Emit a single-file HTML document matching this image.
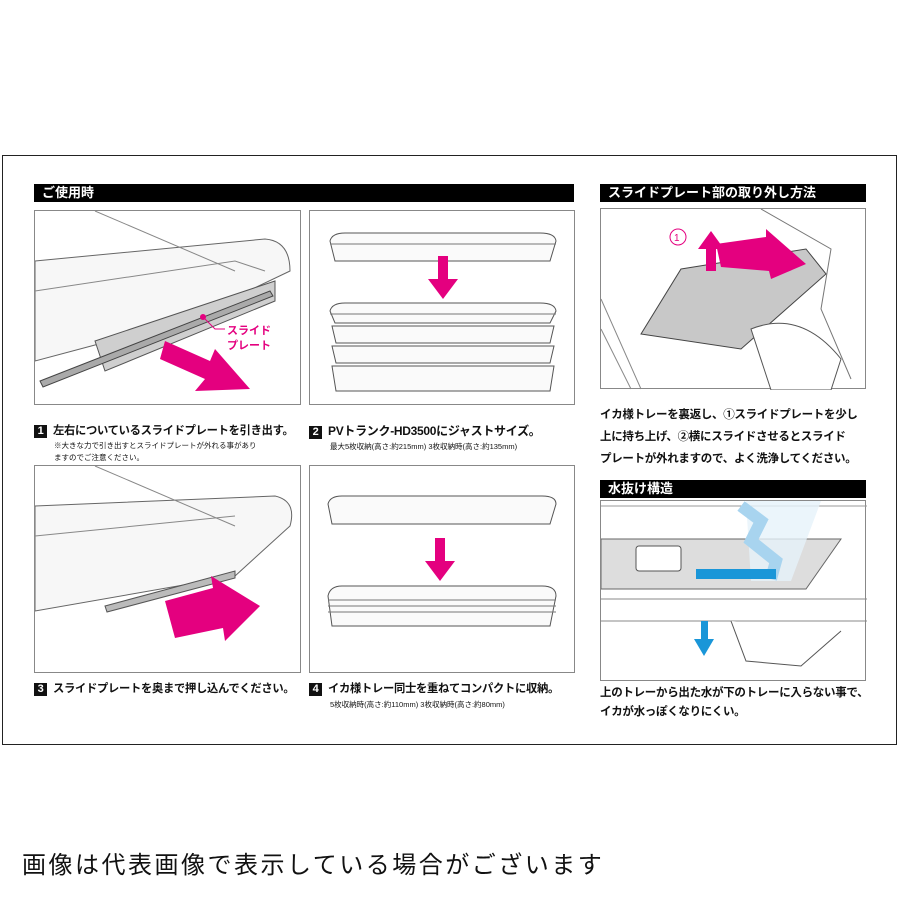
<!DOCTYPE html>
<html><head><meta charset="utf-8"><style>
body{margin:0;width:900px;height:900px;background:#fff;font-family:"Liberation Sans","Noto Sans CJK JP",sans-serif;position:relative;overflow:hidden;color:#111}
.a{position:absolute}
.hd{position:absolute;background:#000;color:#fff;font-weight:bold;font-size:13px;line-height:18px;padding-left:8px;box-sizing:border-box}
.pn{position:absolute;border:1px solid #888;box-sizing:border-box;background:#fff}
.t{position:absolute;font-size:11.3px;font-weight:bold;white-space:nowrap;letter-spacing:-0.3px}
.s{position:absolute;font-size:7.5px;white-space:nowrap}
.n{display:inline-block;background:#111;color:#fff;width:13px;height:13px;line-height:13px;text-align:center;font-size:11px;margin-right:6px}
</style></head><body>
<div class="a" style="left:2px;top:155px;width:895px;height:590px;border:1.5px solid #222;box-sizing:border-box"></div>

<div class="hd" style="left:34px;top:184px;width:540px;height:18px">ご使用時</div>
<div class="hd" style="left:600px;top:184px;width:266px;height:18px">スライドプレート部の取り外し方法</div>

<div class="pn" style="left:34px;top:210px;width:267px;height:195px">
<svg width="267" height="195" viewBox="0 0 267 195">
<path d="M0 50 L230 28 Q255 30 255 60 L150 110 L0 150Z" fill="#f7f7f7" stroke="#666"/>
<path d="M0 80 L200 50 L230 60" fill="none" stroke="#888"/>
<path d="M60 130 L240 70 L240 90 L70 160Z" fill="#cfcfcf" stroke="#555"/>
<path d="M5 170 L235 80 L238 85 L8 176Z" fill="#aaa" stroke="#444"/>
<line x1="60" y1="0" x2="200" y2="60" stroke="#888"/>
<polygon points="130,130 175,150 180,138 215,178 160,180 170,168 125,148" fill="#e4007f"/>
<circle cx="168" cy="106" r="3" fill="#e4007f"/>
<path d="M168 106 L180 118 L190 118" stroke="#e4007f" fill="none"/>
<text x="192" y="123" font-size="11" fill="#e4007f" font-weight="bold">スライド</text>
<text x="192" y="138" font-size="11" fill="#e4007f" font-weight="bold">プレート</text>
</svg></div>
<div class="pn" style="left:309px;top:210px;width:266px;height:195px">
<svg width="266" height="195" viewBox="0 0 266 195">
<g fill="#fafafa" stroke="#555">
<path d="M20 30 Q22 22 35 22 L230 22 Q245 22 246 30 L240 50 L25 50Z"/>
<path d="M20 100 Q22 92 35 92 L230 92 Q245 92 246 100 L240 112 L25 112Z"/>
<path d="M22 115 L244 115 L240 132 L26 132Z"/>
<path d="M22 135 L244 135 L240 152 L26 152Z"/>
<path d="M22 155 L244 155 L240 180 L26 180Z"/>
</g>
<line x1="20" y1="33" x2="246" y2="33" stroke="#777"/>
<line x1="20" y1="103" x2="246" y2="103" stroke="#777"/>
<polygon points="128,45 138,45 138,68 148,68 133,88 118,68 128,68" fill="#e4007f"/>
</svg></div>

<div class="t" style="left:34px;top:422px"><span class="n">1</span>左右についているスライドプレートを引き出す。</div>
<div class="s" style="left:54px;top:440px">※大きな力で引き出すとスライドプレートが外れる事があり</div>
<div class="s" style="left:54px;top:452px">ますのでご注意ください。</div>
<div class="t" style="left:309px;top:422px;font-size:12px"><span class="n">2</span>PVトランク-HD3500にジャストサイズ。</div>
<div class="s" style="left:330px;top:441px">最大5枚収納(高さ:約215mm) 3枚収納時(高さ:約135mm)</div>

<div class="pn" style="left:34px;top:465px;width:267px;height:208px">
<svg width="267" height="208" viewBox="0 0 267 208">
<path d="M0 40 L240 30 Q262 35 255 60 L200 110 L0 145Z" fill="#f7f7f7" stroke="#666"/>
<path d="M0 70 L200 50" stroke="#888" fill="none"/>
<path d="M70 140 L200 105 L200 112 L72 146Z" fill="#bbb" stroke="#555"/>
<line x1="60" y1="0" x2="200" y2="60" stroke="#888"/>
<polygon points="130,135 178,122 176,110 225,140 190,175 188,162 140,172" fill="#e4007f"/>
</svg></div>
<div class="pn" style="left:309px;top:465px;width:266px;height:208px">
<svg width="266" height="208" viewBox="0 0 266 208">
<g fill="#fafafa" stroke="#555">
<path d="M18 38 Q20 30 32 30 L232 30 Q246 30 246 38 L240 58 L22 58Z"/>
<path d="M18 130 Q20 120 32 120 L232 120 Q246 120 246 130 L240 160 L22 160Z"/>
</g>
<line x1="18" y1="134" x2="246" y2="134" stroke="#777"/><line x1="18" y1="140" x2="246" y2="140" stroke="#777"/><line x1="18" y1="146" x2="246" y2="146" stroke="#777"/>
<polygon points="125,72 135,72 135,95 145,95 130,115 115,95 125,95" fill="#e4007f"/>
</svg></div>

<div class="t" style="left:34px;top:680px"><span class="n">3</span>スライドプレートを奥まで押し込んでください。</div>
<div class="t" style="left:309px;top:680px"><span class="n">4</span>イカ様トレー同士を重ねてコンパクトに収納。</div>
<div class="s" style="left:330px;top:699px">5枚収納時(高さ:約110mm) 3枚収納時(高さ:約80mm)</div>

<div class="pn" style="left:600px;top:208px;width:266px;height:181px">
<svg width="266" height="181" viewBox="0 0 266 181">
<path d="M0 90 L40 180 M0 120 L30 180" stroke="#888" fill="none"/>
<path d="M160 0 L230 40 L220 100 L250 170" stroke="#777" fill="none"/>
<path d="M80 60 L205 40 L225 65 L140 140 L40 125Z" fill="#c8c8c8" stroke="#444"/>
<path d="M150 120 Q200 100 240 150 L230 181 L170 181 Z" fill="#fff" stroke="#555"/>
<polygon points="105,62 115,62 115,40 123,40 110,22 97,40 105,40" fill="#e4007f"/>
<polygon points="115,35 165,28 165,20 205,55 170,70 168,62 120,58" fill="#e4007f"/>
<circle cx="77" cy="28" r="8" fill="none" stroke="#e4007f"/><text x="73" y="32" font-size="10" fill="#e4007f">1</text>
<circle cx="186" cy="55" r="7" fill="none" stroke="#e4007f"/><text x="182" y="59" font-size="10" fill="#e4007f">2</text>
</svg></div>
<div class="t" style="left:600px;top:404px;font-size:11.5px;line-height:22px">イカ様トレーを裏返し、①スライドプレートを少し<br>上に持ち上げ、②横にスライドさせるとスライド<br>プレートが外れますので、よく洗浄してください。</div>

<div class="hd" style="left:600px;top:480px;width:266px;height:18px">水抜け構造</div>
<div class="pn" style="left:600px;top:500px;width:266px;height:181px">
<svg width="266" height="181" viewBox="0 0 266 181">
<path d="M0 5 L266 5" stroke="#999"/>
<path d="M0 38 L240 38 L205 88 L0 88Z" fill="#ddd" stroke="#666"/>
<path d="M145 0 L220 0 L190 80 L150 80 Z" fill="#e6f3fa" opacity=".8"/>
<path d="M140 5 L160 20 L150 40 L175 60 L170 78" stroke="#a8d4ef" stroke-width="12" fill="none"/>
<rect x="95" y="68" width="80" height="10" fill="#1a96d8"/>
<rect x="35" y="45" width="45" height="25" fill="#fff" stroke="#555" rx="3"/>
<path d="M0 98 L266 98 M0 120 L266 120" stroke="#888"/>
<path d="M130 120 L145 160 L200 165 L240 130" fill="#fff" stroke="#555"/>
<polygon points="100,120 107,120 107,138 113,138 103,155 93,138 100,138" fill="#1a96d8"/>
</svg></div>
<div class="t" style="left:600px;top:684px;font-size:11.5px;line-height:19px">上のトレーから出た水が下のトレーに入らない事で、<br>イカが水っぽくなりにくい。</div>

<div class="a" style="left:22px;top:845px;font-size:24px;letter-spacing:2.5px;white-space:nowrap">画像は代表画像で表示している場合がございます</div>
</body></html>
